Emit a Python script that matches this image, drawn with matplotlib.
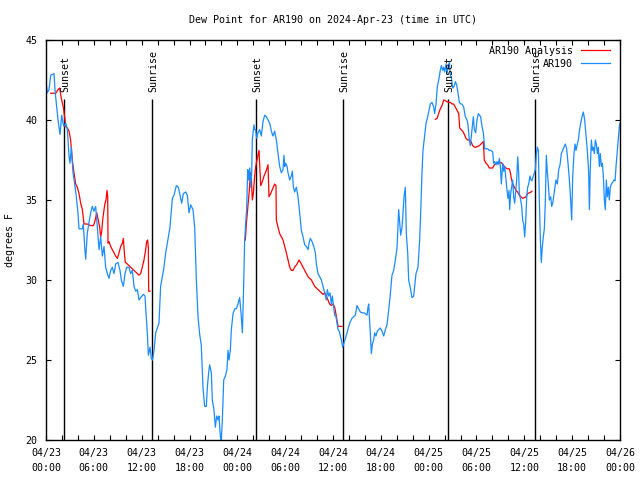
import numpy as np
import matplotlib
matplotlib.use("Agg")
import matplotlib.pyplot as plt

# hours since 2024-04-23 00:00 UTC
obs_hours = [0.0, 0.17, 0.38, 0.59, 1.0, 1.13, 1.34, 1.51, 1.76, 1.97, 2.13, 2.26, 2.47, 2.68, 2.89, 3.01,
             3.18, 3.39, 3.60, 3.80, 4.01, 4.14, 4.56, 4.68, 4.85, 4.98, 5.18, 5.39, 5.60, 5.81, 6.02, 6.23,
             6.44, 6.65, 6.86, 7.07, 7.28, 7.48, 7.69, 7.90, 8.11, 8.32, 8.53, 8.74, 9.03, 9.28, 9.45, 9.70,
             9.91, 10.12, 10.41, 10.62, 10.83, 11.04, 11.25, 11.46, 11.67, 11.87, 12.21, 12.42, 12.50, 12.71,
             12.84, 13.05, 13.21, 13.34, 13.55, 13.76, 14.17, 14.38, 14.59, 14.80, 15.01, 15.22, 15.55, 15.85,
             16.06, 16.35, 16.60, 16.81, 17.02, 17.23, 17.52, 17.73, 17.94, 18.15,
             18.44, 18.65, 18.86, 19.07, 19.28, 19.48, 19.69, 19.90, 20.11, 20.24, 20.40, 20.53, 20.74, 20.86,
             21.07, 21.24, 21.41, 21.58, 21.70, 21.87, 21.99, 22.12, 22.29, 22.50, 22.70, 22.83, 22.96, 23.12,
             23.25, 23.46, 23.67, 23.88, 24.08, 24.29, 24.50, 24.63, 24.75, 24.92, 25.05, 25.17, 25.30, 25.42,
             25.55, 25.67, 25.80, 25.88, 25.97, 26.09, 26.18, 26.30, 26.43, 26.59, 26.80, 27.01, 27.22, 27.43,
             27.64, 27.85, 28.06, 28.27, 28.47, 28.68, 28.89, 29.10, 29.31, 29.52, 29.73, 29.85, 29.94, 30.06,
             30.23, 30.36, 30.57, 30.77, 30.90, 31.03, 31.19, 31.40, 31.61, 31.82, 32.03, 32.24, 32.45, 32.66,
             32.87, 32.99, 33.16, 33.37, 33.58, 33.79, 33.91, 34.12, 34.33, 34.54, 34.75, 34.96, 35.16, 35.29,
             35.46, 35.62, 35.79, 35.92, 36.09, 36.21,
             36.38, 36.50, 36.63, 36.79, 36.92, 37.05, 37.21, 37.34, 37.55, 37.76, 37.97, 38.17, 38.38, 38.59,
             38.80, 39.01, 39.22, 39.43, 39.64, 39.85, 40.06, 40.27, 40.39, 40.48, 40.56, 40.68, 40.81, 40.94,
             41.10, 41.23, 41.39, 41.56, 41.73, 41.94, 42.15, 42.36, 42.57, 42.77, 42.98, 43.19, 43.40, 43.61,
             43.82, 44.03, 44.24, 44.36, 44.49, 44.66, 44.78, 44.91, 45.07, 45.20, 45.37, 45.49, 45.70, 45.91,
             46.12, 46.25, 46.41, 46.66, 46.87, 47.04, 47.16, 47.29, 47.46, 47.67, 47.83, 48.00, 48.21, 48.42,
             48.63, 48.75, 48.92, 49.09, 49.26, 49.46, 49.59, 49.76, 49.88, 50.01, 50.18, 50.30, 50.43, 50.59,
             50.72, 50.84, 51.01, 51.18, 51.35, 51.51, 51.68, 51.85, 52.02, 52.18, 52.39, 52.60, 52.81, 52.93,
             53.10, 53.23, 53.35, 53.48, 53.60, 53.73, 53.90, 54.06, 54.23,
             54.52, 54.69, 54.86, 55.03, 55.19, 55.40, 55.61, 55.82, 56.03, 56.15, 56.28, 56.45, 56.57, 56.70,
             56.87, 56.99, 57.12, 57.28, 57.41, 57.54, 57.70, 57.83, 57.95, 58.08, 58.16, 58.29, 58.41, 58.54,
             58.66, 58.79, 58.91, 59.04, 59.17, 59.29, 59.37, 59.54, 59.67, 59.79, 59.92, 60.04, 60.17, 60.30,
             60.42, 60.55, 60.71, 60.84, 60.96, 61.13, 61.26, 61.38, 61.51, 61.63, 61.76, 61.88, 62.01, 62.13,
             62.26, 62.38, 62.51, 62.64, 62.76, 62.89, 63.01, 63.14, 63.31, 63.43, 63.56, 63.68, 63.81, 63.97,
             64.14, 64.31, 64.48, 64.64, 64.81, 64.98, 65.14, 65.31, 65.48, 65.65, 65.81, 65.94, 66.07, 66.23,
             66.36, 66.48, 66.65, 66.78, 66.90, 67.07, 67.24, 67.40, 67.57, 67.74, 67.90, 68.07, 68.16, 68.28,
             68.41, 68.53, 68.66, 68.78, 68.91, 69.03, 69.16, 69.28, 69.41, 69.53, 69.66, 69.79, 69.91, 70.04,
             70.16, 70.29, 70.41, 70.54, 70.66, 70.79, 70.92, 71.08, 71.25, 71.38, 71.50, 71.67, 71.79, 71.92, 72.0]

obs_dewpt = [42.4, 41.7, 41.9, 42.8, 42.9, 41.9, 40.8, 40.0, 39.1, 40.3, 39.8, 39.6, 39.8, 39.4, 37.7, 37.3,
             38.3, 36.7, 36.0, 35.2, 34.2, 33.2, 33.2, 33.5, 32.1, 31.3, 32.9, 33.6, 34.2, 34.6, 34.3, 34.6,
             33.3, 31.9, 32.7, 31.5, 32.1, 30.8, 30.4, 30.1, 30.6, 30.8, 30.4, 31.0, 31.1, 30.6, 30.0, 29.6,
             30.4, 30.8, 30.8, 30.4, 30.6, 29.6, 29.3, 29.4, 28.75, 28.9, 29.1, 29.0, 28.3, 26.7,
             25.3, 25.8, 25.1, 25.0, 25.6, 26.7, 27.3, 29.6, 30.2, 30.8, 31.7, 32.3, 33.3, 35.1,
             35.3, 35.9, 35.8, 35.3, 34.8, 35.4, 35.5, 35.3, 34.2, 34.7,
             34.4, 33.3, 30.0, 27.7, 26.6, 25.9, 23.3, 22.1, 22.1, 23.3, 24.2, 24.7, 24.2, 22.5,
             21.9, 20.8, 21.5, 21.25, 21.5, 20.2, 20.0, 21.25, 23.75, 24.0, 24.4, 25.6, 25.0, 25.6,
             26.9, 27.9, 28.2, 28.2, 28.5, 28.9, 27.7, 26.7, 28.75, 32.5, 33.6, 34.4, 36.9, 36.25,
             37.0, 35.8, 36.7, 38.75, 39.2, 39.7, 39.4, 39.4, 38.85, 39.2, 39.4, 39.0, 39.9, 40.3,
             40.2, 40.0, 39.8, 39.3, 39.0, 39.3, 38.75, 37.9, 37.1, 36.7, 36.9, 37.8, 37.1, 37.3,
             37.1, 36.7, 36.25, 36.5, 36.8, 35.8, 35.5, 35.8, 35.2, 34.2, 33.1, 32.7, 32.2, 32.1,
             31.9, 32.3, 32.6, 32.4, 32.1, 31.7, 31.0, 30.4, 30.2, 30.0, 29.6, 29.2, 28.75, 29.4,
             29.0, 29.2, 28.5, 29.0, 28.3, 27.8,
             27.7, 27.3, 26.9, 26.8, 26.5, 26.25, 25.8, 26.0, 26.35, 26.7, 27.1, 27.4, 27.6, 27.7,
             27.8, 28.4, 28.2, 28.0, 27.95, 27.95, 27.9, 27.8, 28.3, 28.5, 27.7, 26.7, 25.4, 26.0,
             26.25, 26.7, 26.5, 26.8, 26.9, 27.0, 26.8, 26.5, 26.9, 27.2, 28.1, 29.1, 30.3, 30.6,
             31.25, 32.0, 34.4, 33.6, 32.8, 33.3, 34.2, 35.2, 35.8, 32.9, 31.7, 30.0, 29.5, 28.9,
             29.0, 29.6, 30.4, 30.8, 32.5, 34.8, 36.7, 38.1, 38.85, 39.8, 40.1, 40.5, 41.0, 41.1,
             40.8, 40.4, 41.0, 42.1, 42.5, 43.1, 43.4, 43.1, 43.3, 43.0, 43.5, 42.9, 43.3, 43.6,
             42.8, 42.7, 42.0, 42.1, 42.4, 42.2, 41.7, 41.1, 41.0, 41.0, 40.8, 40.2, 40.0, 39.7,
             38.75, 38.4, 39.0, 39.6, 40.2, 39.4, 39.2, 40.0, 40.4,
             40.2, 39.6, 39.2, 38.2, 38.2, 38.2, 38.1, 38.1, 38.0, 37.3, 37.4, 37.2, 37.4, 37.2,
             37.6, 37.1, 36.0, 37.3, 36.8, 37.1, 36.25, 35.6, 35.1, 35.6, 34.4, 35.4, 35.8, 36.25,
             35.2, 34.8, 35.5, 36.25, 37.7, 36.7, 35.4, 35.0, 34.6, 33.75, 33.5, 32.7, 33.6, 35.2,
             35.8, 36.0, 36.5, 36.25, 36.2, 36.5, 36.7, 36.9, 37.9, 38.3, 38.1, 35.0, 32.5, 31.1,
             32.1, 32.7, 33.2, 35.0, 37.8, 36.7, 36.0, 35.0, 35.2, 34.6, 34.8, 35.2, 35.7, 36.25,
             36.0, 36.9, 37.2, 37.9, 38.1, 38.3, 38.5, 38.2, 37.3, 36.25, 35.0, 33.75, 36.5, 37.9,
             38.5, 38.1, 38.5, 38.75, 39.3, 39.8, 40.2, 40.5, 40.0, 39.0, 38.1, 36.7, 34.4, 37.1,
             38.75, 38.1, 38.3, 37.9, 38.75, 38.5, 37.9, 38.3, 37.1, 37.9, 37.1, 37.3, 36.5, 35.0,
             34.4, 36.25, 35.2, 35.8, 35.0, 35.8, 36.0, 36.1, 36.25, 36.2, 37.1, 38.1, 38.75, 39.6, 39.8]

# analysis, None = gap between runs
ana_hours = [0.59, 1.21, 1.51, 1.71, 1.92, 2.17, 2.34, 2.47, 2.68, 2.89, 3.09, 3.30, 3.51, 3.72, 3.93, 4.14,
             4.35, 4.56, 4.77, 5.18, 5.60, 5.94, 6.10, 6.36, 6.56, 6.73, 6.86, 6.98, 7.11, 7.28, 7.40, 7.53,
             7.65, 7.74, 7.78, 7.90, 8.11, 8.32, 8.53, 8.74, 8.95, 9.16, 9.37, 9.58, 9.70, 9.83, 9.95, 10.20,
             10.41, 10.62, 10.83, 11.04, 11.25, 11.46, 11.67, 11.87, 12.08, 12.29, 12.50, 12.63, 12.75, 12.84,
             12.88, 13.05, None,
             25.00, 25.13, 25.25, 25.38, 25.50, 25.63, 25.75, 25.88, 26.01, 26.13, 26.26, 26.38, 26.51, 26.72,
             26.93, 27.10, 27.35, 27.60, 27.85, 27.97, 28.18, 28.43, 28.68, 28.85, 28.89, 29.10, 29.31, 29.52,
             29.73, 29.94, 30.15, 30.36, 30.57, 30.77, 30.98, 31.19, 31.49, 31.74, 32.03, 32.24, 32.45, 32.66,
             32.87, 33.08, 33.29, 33.50, 33.71, 33.91, 34.12, 34.33, 34.54, 34.75, 34.96, 35.16, 35.37, 35.58,
             35.79, 36.00, 36.21, 36.29, 36.50, 36.63, 36.79, 37.05, 37.13, None,
             48.84, 49.05, 49.26, 49.46, 49.67, 49.88, 50.09, 50.30, 50.51, 50.72, 50.93, 51.14, 51.35, 51.56,
             51.77, 51.89, 52.06, 52.27, 52.48, 52.68, 52.89, 53.10, 53.31, 53.52, 53.73, 53.94, 54.15, 54.36,
             54.77, 54.86, 54.98, 55.19, 55.40, 55.61, 55.82, 56.03, 56.24, 56.45, 56.66, 56.87, 57.07, 57.28,
             57.49, 57.70, 57.91, 58.12, 58.25, 58.37, 58.54, 58.75, 58.95, 59.16, 59.37, 59.58, 59.79, 60.00,
             60.21, 60.42, 60.63, 60.84, 60.96]

ana_dewpt = [41.67, 41.67, 41.9, 42.0, 41.35, 40.8, 40.2, 39.6, 39.5, 39.3, 38.75, 37.5, 36.7, 36.0, 35.8, 35.4,
             34.8, 34.4, 33.5, 33.5, 33.4, 33.4, 33.6, 34.2, 33.75, 33.3, 32.7, 33.0, 33.75, 34.4, 34.8, 35.0,
             35.6, 35.2, 32.3, 32.4, 32.1, 31.9, 31.7, 31.5, 31.35, 31.7, 32.1, 32.3, 32.6, 31.7, 31.1, 31.0,
             30.9, 30.8, 30.7, 30.6, 30.5, 30.4, 30.3, 30.4, 30.8, 31.25, 31.9, 32.4, 32.5, 32.0,
             29.3, 29.3, None,
             32.5, 33.5, 34.2, 35.0, 35.6, 36.7, 36.5, 35.0, 35.4, 36.25, 36.9, 37.3, 37.6, 38.1,
             35.9, 36.1, 36.5, 36.8, 37.2, 35.2, 35.4, 35.7, 36.0, 35.9, 33.75, 33.3, 32.9, 32.7,
             32.5, 32.1, 31.7, 31.25, 30.8, 30.6, 30.6, 30.8, 31.0, 31.25, 31.0, 30.8, 30.6, 30.4,
             30.2, 30.1, 30.0, 29.8, 29.6, 29.5, 29.4, 29.3, 29.2, 29.1, 29.2, 29.0, 28.75, 28.5,
             28.4, 28.5, 28.3, 28.1, 27.5, 27.1, 27.1, 27.1, 27.1, None,
             40.04, 40.1, 40.4, 40.7, 40.9, 41.25, 41.2, 41.15, 41.1, 41.1, 41.0, 41.0, 40.8, 40.6,
             40.4, 39.5, 39.4, 39.3, 39.1, 38.85, 38.75, 38.75, 38.65, 38.4, 38.3, 38.3, 38.35, 38.4,
             38.6, 38.65, 37.5, 37.3, 37.2, 37.0, 37.0, 37.0, 37.2, 37.3, 37.35, 37.3, 37.35, 37.25,
             37.1, 37.0, 36.95, 36.95, 36.7, 36.35, 36.0, 35.8, 35.6, 35.5, 35.3, 35.2, 35.1, 35.15,
             35.2, 35.4, 35.45, 35.5, 35.55]

event_hours = [2.26, 13.30, 26.38, 37.26, 50.43, 61.34]
event_names = ["Sunset", "Sunrise", "Sunset", "Sunrise", "Sunset", "Sunrise"]

tick_hours = [0, 6, 12, 18, 24, 30, 36, 42, 48, 54, 60, 66, 72]
tick_labels = ["04/23\n00:00", "04/23\n06:00", "04/23\n12:00", "04/23\n18:00", "04/24\n00:00",
               "04/24\n06:00", "04/24\n12:00", "04/24\n18:00", "04/25\n00:00", "04/25\n06:00",
               "04/25\n12:00", "04/25\n18:00", "04/26\n00:00"]

plt.rcParams['font.family'] = 'DejaVu Sans Mono'
plt.rcParams['font.size'] = 7.2

fig = plt.figure(figsize=(6.4, 4.8), dpi=100)
ax = fig.add_axes([46/640, 40/480, 574/640, 400/480])

ana_x = np.array([np.nan if h is None else h for h in ana_hours])
ana_y = np.array([np.nan if v is None else v for v in ana_dewpt])

ax.vlines(event_hours, 20, 41.3, color='black', linewidth=1)
for h, name in zip(event_hours, event_names):
    ax.text(h + 0.15, 41.75, name, rotation=90, ha='center', va='bottom')

ax.plot(ana_x, ana_y, color='#ff0000', linewidth=0.9, label='AR190 Analysis')
ax.plot(obs_hours, obs_dewpt, color='#1a8cff', linewidth=0.9, label='AR190')

ax.set_xlim(0, 72)
ax.set_ylim(20, 45)
ax.set_xticks(tick_hours)
ax.set_xticklabels(tick_labels, linespacing=1.6)
ax.set_xticks(np.arange(0, 73, 2), minor=True)
ax.set_yticks([20, 25, 30, 35, 40, 45])
ax.tick_params(which='both', direction='in', top=True, right=True, length=3.5, width=0.8)
ax.tick_params(axis='x', pad=6)
ax.tick_params(axis='y', pad=6)
for s in ax.spines.values():
    s.set_linewidth(1)

fig.text(10/640, 0.5, 'degrees F', rotation=90, ha='center', va='center')
fig.text(333/640, 1 - 20/480, 'Dew Point for AR190 on 2024-Apr-23 (time in UTC)', ha='center', va='center')

ax.legend(loc='upper right', bbox_to_anchor=(0.983, 0.986), frameon=False, markerfirst=False,
          borderpad=0, borderaxespad=0, handlelength=2.9, handletextpad=0.8, labelspacing=0.3)

fig.savefig('out.png', dpi=100)
